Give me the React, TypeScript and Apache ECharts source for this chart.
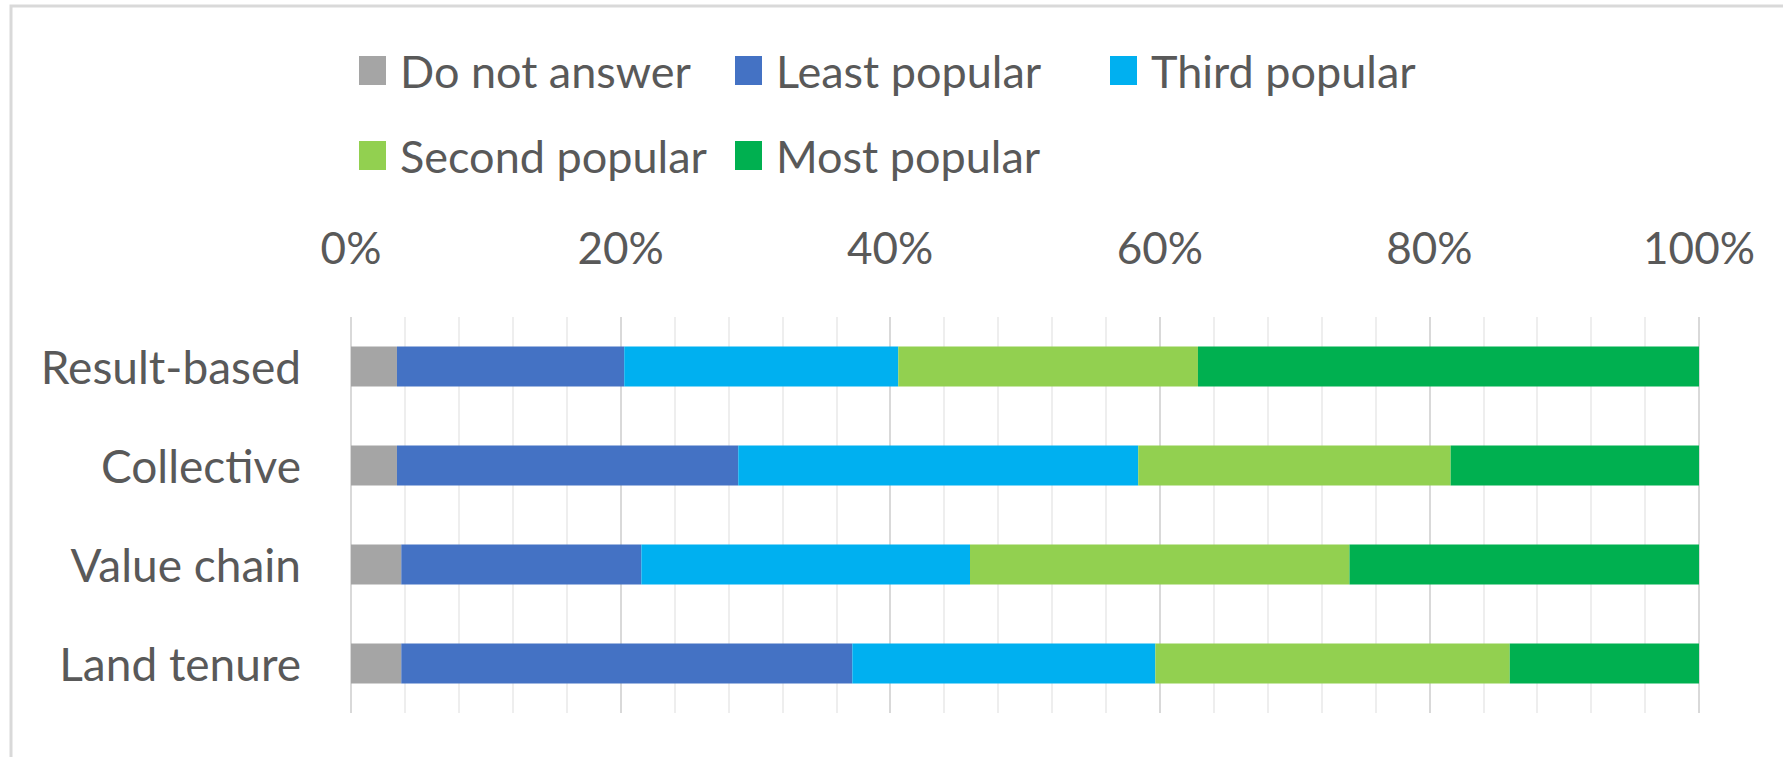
import React, { useEffect, useRef } from "react";
import * as echarts from "echarts";

const categories = ["Result-based", "Collective", "Value chain", "Land tenure"];
const seriesNames = ["Do not answer", "Least popular", "Third popular", "Second popular", "Most popular"];
const doNotAnswer = [3.41, 3.41, 3.73, 3.73];
const leastPopular = [16.86, 25.32, 17.81, 33.46];
const thirdPopular = [20.33, 29.67, 24.38, 22.48];
const secondPopular = [22.23, 23.18, 28.15, 26.29];
const mostPopular = [37.17, 18.42, 25.93, 14.04];
const seriesColors = ["#a5a5a5", "#4472c4", "#00b0f0", "#92d050", "#00b050"];

const FONT = "Lato, 'Noto Sans', sans-serif";
const TEXT = "#595959";

export default function App() {
  const ref = useRef<HTMLDivElement>(null);
  useEffect(() => {
    if (!ref.current) return;
    const chart = echarts.init(ref.current, undefined, { renderer: "svg" });
    const values = [doNotAnswer, leastPopular, thirdPopular, secondPopular, mostPopular];
    const legendPos = [
      { left: 359, top: 48 },
      { left: 735, top: 48 },
      { left: 1110, top: 48 },
      { left: 359, top: 133 },
      { left: 735, top: 133 },
    ];
    chart.setOption({
      animation: false,
      backgroundColor: "#ffffff",
      textStyle: { fontFamily: FONT },
      graphic: [
        {
          type: "rect",
          shape: { x: 11, y: 6, width: 1800, height: 800 },
          style: { fill: "none", stroke: "#d9d9d9", lineWidth: 3 },
          silent: true,
        },
      ],
      legend: seriesNames.map((n, i) => ({
        data: [n],
        left: legendPos[i].left,
        top: legendPos[i].top,
        padding: 0,
        icon: "rect",
        itemWidth: 27,
        itemHeight: 29,
        textStyle: { fontSize: 45, color: TEXT, fontFamily: FONT, padding: [0, 0, 0, 9] },
      })),
      grid: { left: 351, top: 317, width: 1348, height: 396 },
      xAxis: {
        type: "value",
        position: "top",
        min: 0,
        max: 100,
        interval: 20,
        axisLine: { show: false },
        axisTick: { show: false },
        axisLabel: {
          formatter: "{value}%",
          fontSize: 44,
          color: TEXT,
          fontFamily: FONT,
          margin: 48,
        },
        splitLine: { show: true, lineStyle: { color: "#d9d9d9", width: 2 } },
        minorTick: { show: false, splitNumber: 5 },
        minorSplitLine: { show: true, lineStyle: { color: "#eeeeee", width: 2 } },
      },
      yAxis: {
        type: "category",
        data: categories,
        inverse: true,
        axisLine: { show: false },
        axisTick: { show: false },
        axisLabel: { fontSize: 46, color: TEXT, fontFamily: FONT, margin: 50 },
        splitLine: { show: false },
      },
      series: seriesNames.map((n, i) => ({
        name: n,
        type: "bar",
        stack: "total",
        barWidth: 40,
        data: values[i],
        itemStyle: { color: seriesColors[i] },
      })),
    });
    return () => chart.dispose();
  }, []);
  return (
    <div
      ref={ref}
      style={{ position: "absolute", left: 0, top: 0, width: 1783, height: 757 }}
    />
  );
}
